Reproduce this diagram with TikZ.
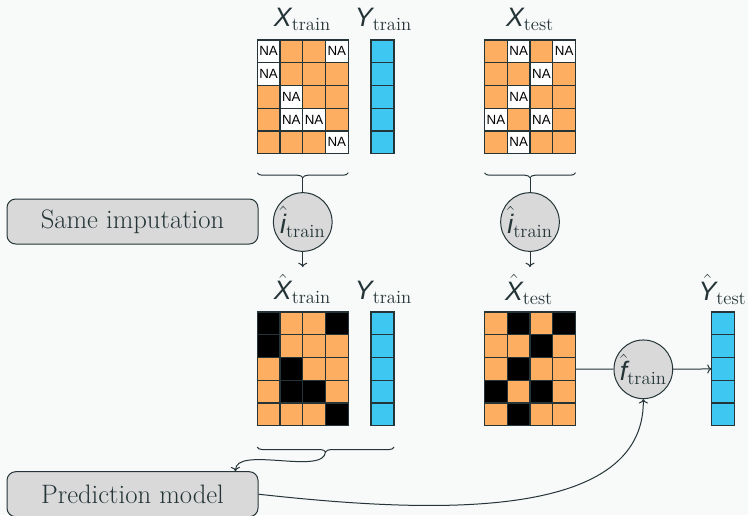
\documentclass[tikz,border=0pt]{standalone}
\usepackage{fontspec}
\newfontfamily\lsans{Liberation Sans}
\usetikzlibrary{decorations.pathreplacing,arrows.meta}
\definecolor{bg}{RGB}{248,249,249}
\definecolor{ink}{RGB}{36,52,55}
\definecolor{orng}{RGB}{253,174,97}
\definecolor{cyanb}{RGB}{62,199,240}
\definecolor{greyfill}{RGB}{217,217,217}
\newcommand{\sv}[1]{\mbox{\lsans\itshape #1}}
\newcommand\drawgrid[6]{%
  \foreach \row [count=\r from 0] in {#5} {%
    \foreach \v [count=\c from 0] in \row {%
      \ifnum\v=1 \def\cc{#3}\else\def\cc{orng}\fi
      \filldraw[fill=\cc, draw=ink, line width=1pt] ({#1+\c*22.75},{#2+\r*22.75}) rectangle ++(22.75,22.75);
      \ifnum\v=1 \ifnum#4=1 \node[natext] (#6-\c-\r) at ({#1+(\c+0.5)*22.75},{#2+(\r+0.5)*22.75}) {NA};\fi\fi
    }%
  }%
}
\newcommand\drawcol[2]{%
  \foreach \r in {0,...,4} {%
    \filldraw[fill=cyanb, draw=ink, line width=1pt] (#1,{#2+\r*22.75}) rectangle ++(23,22.75);
  }%
}
\begin{document}
\begin{tikzpicture}[x=0.75pt,y=-0.75pt,
  lbl/.style={text=ink, anchor=base, inner sep=0pt, font=\fontsize{20}{24}\selectfont},
  gridframe/.style={draw=ink, line width=1pt, minimum width=68.25pt, minimum height=85.3pt, inner sep=0pt, outer sep=0pt},
  colframe/.style={draw=ink, line width=1pt, minimum width=17.25pt, minimum height=85.3pt, inner sep=0pt, outer sep=0pt},
  circ/.style={circle, draw=ink, fill=greyfill, line width=0.75pt, minimum size=44pt, inner sep=0pt, text=ink, font=\fontsize{20}{24}\selectfont},
  rbox/.style={draw=ink, fill=greyfill, rounded corners=6.5pt, minimum width=188.25pt, minimum height=33.75pt, line width=0.75pt, inner sep=0pt, text=ink, font=\fontsize{20}{24}\selectfont},
  conn/.style={draw=ink, line width=0.75pt},
  bracestyle/.style={draw=ink, line width=0.75pt, decorate, decoration={brace, mirror, amplitude=3.75pt}},
  natext/.style={font=\lsans\fontsize{10}{12}\selectfont, inner sep=0pt, text=black}
]
\fill[bg] (0,0) rectangle (748,515);
\useasboundingbox (0,0) rectangle (748,515);

% top grids
\drawgrid{257.25}{40}{white}{1}{{1,0,0,1},{1,0,0,0},{0,1,0,0},{0,1,1,0},{0,0,0,1}}{ntr}
\drawcol{371}{40}
\drawgrid{484.5}{40}{white}{1}{{0,1,0,1},{0,0,1,0},{0,1,0,0},{1,0,1,0},{0,1,0,0}}{nte}
\node[gridframe] (xtr) at (302.75,96.875) {};
\node[colframe] (ytr) at (382.5,96.875) {};
\node[gridframe] (xte) at (530,96.875) {};

% bottom grids
\drawgrid{257.25}{312}{black}{0}{{1,0,0,1},{1,0,0,0},{0,1,0,0},{0,1,1,0},{0,0,0,1}}{htr}
\drawcol{371}{312}
\drawgrid{484.5}{312}{black}{0}{{0,1,0,1},{0,0,1,0},{0,1,0,0},{1,0,1,0},{0,1,0,0}}{hte}
\drawcol{711.5}{312}
\node[gridframe] (xhtr) at (302.75,368.875) {};
\node[colframe] (yhtr) at (382.5,368.875) {};
\node[gridframe] (xhte) at (530,368.875) {};
\node[colframe] (yhte) at (723,368.875) {};

% labels
\node[lbl] (lxtr) at (302.5,26.7) {$\sv{X}_{\mathrm{train}}$};
\node[lbl] (lytr) at (383.5,26.7) {$\sv{Y}_{\mathrm{train}}$};
\node[lbl] (lxte) at (530,26.7) {$\sv{X}_{\mathrm{test}}$};
\node[lbl] (lxhtr) at (302.5,299.5) {$\hat{\sv{X}}_{\mathrm{train}}$};
\node[lbl] (lyhtr) at (383.5,299.5) {$\sv{Y}_{\mathrm{train}}$};
\node[lbl] (lxhte) at (529,300) {$\hat{\sv{X}}_{\mathrm{test}}$};
\node[lbl] (lyhte) at (722.5,300) {$\hat{\sv{Y}}_{\mathrm{test}}$};

% braces
\draw[bracestyle] ([yshift=-14.25pt]xtr.south west) -- ([yshift=-14.25pt]xtr.south east);
\coordinate (b1) at ([yshift=-18pt]xtr.south);
\draw[bracestyle] ([yshift=-14.25pt]xte.south west) -- ([yshift=-14.25pt]xte.south east);
\coordinate (b2) at ([yshift=-18pt]xte.south);
\draw[bracestyle] ([yshift=-16pt]xhtr.south west) -- ([yshift=-16pt]yhtr.south east);
\coordinate (b3) at (325.5,451.5);

% circles
\node[circ] (itr) at (302.75,222) {$\hat{\sv{i}}_{\mathrm{train}}$};
\node[circ] (ite) at (530,222) {$\hat{\sv{i}}_{\mathrm{train}}$};
\node[circ] (ftr) at (643.3,369.3) {$\hat{\sv{f}}_{\mathrm{train}}$};
\coordinate (a1) at (302.75,267);
\coordinate (a2) at (530,267);

% boxes
\node[rbox] (same) at (132.5,221.5) {Same imputation};
\node[rbox] (pm) at (132.5,494.2) {Prediction model};

% connectors
\draw[conn] (b1) -- (itr);
\draw[conn,->] (itr) -- (a1);
\draw[conn] (b2) -- (ite);
\draw[conn,->] (ite) -- (a2);
\draw[conn] (xhte) -- (ftr);
\draw[conn,->] (ftr) -- (yhte);
\draw[conn,->] (b3) .. controls (325,476) and (235,445) .. ([xshift=-17.25pt]pm.north east);
\draw[conn,->] (pm.east) .. controls (420,512) and (645,525) .. (ftr.south);
\end{tikzpicture}
\end{document}
